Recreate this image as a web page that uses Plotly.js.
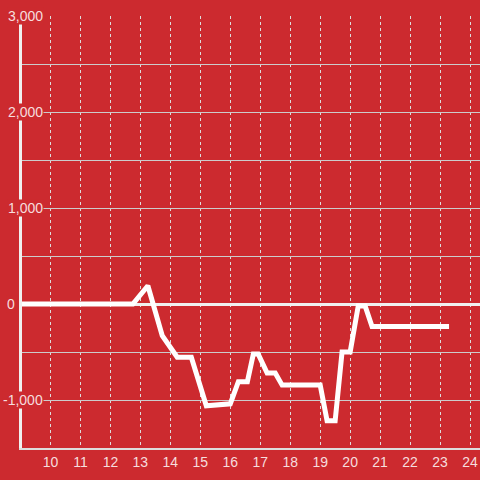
<!DOCTYPE html>
<html>
<head>
<meta charset="utf-8">
<script src="https://cdn.plot.ly/plotly-3.0.1.min.js"></script>
<style>html,body{margin:0;padding:0;background:#cc2a2f;}#chart{width:480px;height:480px;}</style>
</head>
<body>
<div id="chart"></div>
<script>
var times = [9.0, 12.75, 13.25, 13.73, 14.23, 14.7, 15.2, 16.0, 16.27, 16.57, 16.77, 16.93, 17.23, 17.5, 17.73, 19.0, 19.23, 19.5, 19.73, 20.0, 20.27, 20.5, 20.73, 23.3];
var values = [0, 0, 190, -330, -555, -555, -1060, -1040, -810, -810, -520, -520, -720, -720, -845, -845, -1215, -1215, -500, -500, -20, -20, -235, -235];
var yTickVals = [-1000, 0, 1000, 2000, 3000];
var yTickText = ['-1,000', '0', '1,000', '2,000', '3,000'];
var xTickVals = [10, 11, 12, 13, 14, 15, 16, 17, 18, 19, 20, 21, 22, 23, 24];

var bg = '#cc2a2f';
var labelColor = 'rgba(255,255,255,0.85)';
var fontFam = 'Liberation Sans, Arial, sans-serif';

var annotations = yTickVals.map(function (v, i) {
  var isZero = v === 0;
  return {
    xref: 'paper', yref: 'y',
    x: isZero ? -0.013 : 0.048,
    y: v,
    xanchor: 'right', yanchor: 'middle',
    text: yTickText[i],
    showarrow: false,
    bgcolor: bg,
    borderpad: 0,
    font: {family: fontFam, size: 14, color: labelColor}
  };
});

var trace = {
  x: times, y: values,
  type: 'scatter', mode: 'lines',
  line: {color: '#ffffff', width: 5},
  hoverinfo: 'skip'
};

var layout = {
  width: 480, height: 480,
  paper_bgcolor: bg, plot_bgcolor: bg,
  margin: {l: 22, r: 0, t: 16, b: 32},
  showlegend: false,
  xaxis: {
    range: [9.05, 24.333],
    tickvals: xTickVals,
    ticktext: xTickVals.map(String),
    showgrid: true, gridcolor: '#dddddd', gridwidth: 1, griddash: 'dot',
    zeroline: false,
    showline: true, linecolor: '#dddddd', linewidth: 1.5,
    ticks: '',
    ticklabelstandoff: 1,
    tickfont: {family: fontFam, size: 14, color: labelColor}
  },
  yaxis: {
    range: [-1500, 3000],
    dtick: 500, tick0: 0,
    showticklabels: false,
    showgrid: true, gridcolor: '#cccccc', gridwidth: 1,
    zeroline: true, zerolinecolor: '#f0f0f0', zerolinewidth: 3,
    showline: true, linecolor: '#f0f0f0', linewidth: 3,
    ticks: ''
  },
  annotations: annotations
};

Plotly.newPlot('chart', [trace], layout, {displayModeBar: false, staticPlot: true});
</script>
</body>
</html>
